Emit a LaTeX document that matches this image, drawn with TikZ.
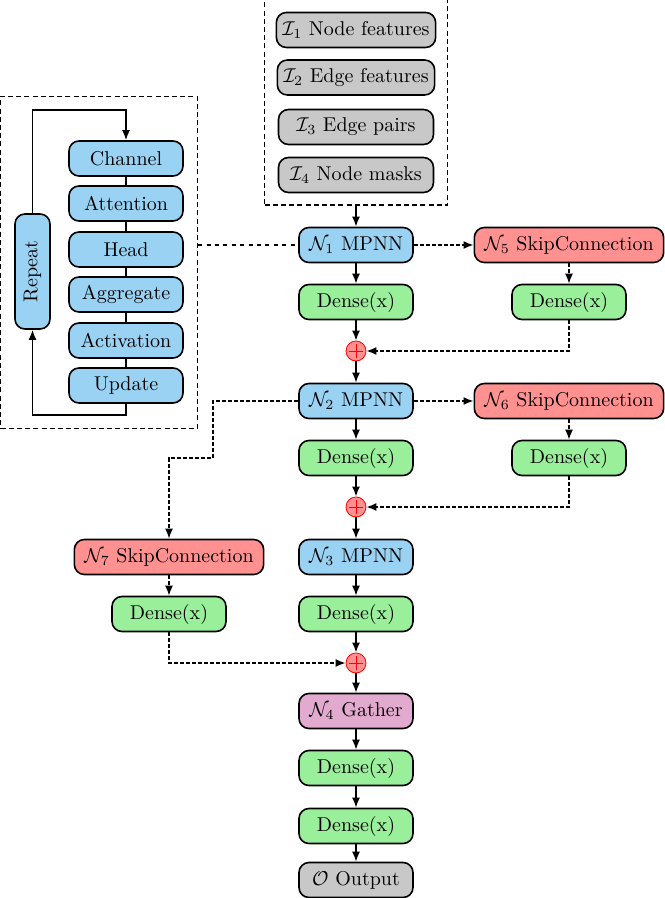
\documentclass[tikz,border=0pt]{standalone}
\usepackage{amsmath,amssymb}
\usepackage{xcolor}
\usetikzlibrary{arrows.meta,positioning,fit}
\definecolor{mpnnblue}{RGB}{154,210,243}
\definecolor{densegreen}{RGB}{154,240,154}
\definecolor{skipred}{RGB}{255,145,145}
\definecolor{gatherpink}{RGB}{226,170,206}
\definecolor{iogray}{RGB}{200,200,200}
\tikzset{
  block/.style={draw,thick,rounded corners=5pt,minimum height=17.5pt,
    minimum width=57pt,inner xsep=5pt},
  mpnn/.style={block,fill=mpnnblue},
  dense/.style={block,fill=densegreen},
  skipblock/.style={block,fill=skipred},
  gather/.style={block,fill=gatherpink},
  inp/.style={block,fill=iogray,minimum width=77.5pt,inner xsep=3pt},
  outp/.style={block,fill=iogray},
  addop/.style={circle,draw=red,fill=skipred,minimum size=10pt,inner sep=0pt,
    path picture={
      \draw[red] ([xshift=-3.6pt]path picture bounding box.center)
        -- ([xshift=3.6pt]path picture bounding box.center);
      \draw[red] ([yshift=-3.6pt]path picture bounding box.center)
        -- ([yshift=3.6pt]path picture bounding box.center);}},
  groupbox/.style={draw,thick,dash pattern=on 2.5pt off 1.6pt},
  flow/.style={thick,-{Latex[length=5pt,width=4pt]}},
  skipflow/.style={thick,dash pattern=on 2pt off 1pt,-{Latex[length=5pt,width=4pt]}},
}

\begin{document}
\begin{tikzpicture}[x=0.5pt,y=-0.5pt]
\useasboundingbox (0,0) rectangle (664,898);

% inputs
\node[inp] (i1) at (356,30) {$\mathcal{I}_1$ Node features};
\node[inp] (i2) at (356,77.5) {$\mathcal{I}_2$ Edge features};
\node[inp] (i3) at (356,127) {$\mathcal{I}_3$ Edge pairs};
\node[inp] (i4) at (356,175) {$\mathcal{I}_4$ Node masks};
\node[groupbox,fit=(i1)(i4),inner xsep=5.5pt,inner ysep=6pt] (inputs) {};

% message passing detail
\node[mpnn] (channel) at (126,158.5) {Channel};
\node[mpnn] (attention) at (126,203.5) {Attention};
\node[mpnn] (head) at (126,249.5) {Head};
\node[mpnn] (aggregate) at (126,294.5) {Aggregate};
\node[mpnn] (activation) at (126,340.5) {Activation};
\node[mpnn] (update) at (126,385.5) {Update};
\node[mpnn,minimum width=17.5pt,minimum height=57.5pt,inner xsep=0pt]
  (repeat) at (32.5,271.5) {\rotatebox{90}{Repeat}};
\coordinate (loopT) at (126,110);
\coordinate (loopB) at (126,415);
\foreach \a/\b in {channel/attention,attention/head,head/aggregate,
  aggregate/activation,activation/update}
  \draw[thick] (\a.south) -- (\b.north);
\draw[flow] (repeat.north) |- (loopT) -- (channel.north);
\draw[flow] (update.south) -- (loopB) -| (repeat.south);
\node[groupbox,fit=(loopT)(loopB)(repeat)(channel),inner sep=6.8pt] (mpnnbox) {};

% main column
\node[mpnn] (n1) at (356,245) {$\mathcal{N}_1$ MPNN};
\node[dense] (d1) at (356,302) {Dense(x)};
\node[addop] (p1) at (356,351) {};
\node[mpnn] (n2) at (356,401) {$\mathcal{N}_2$ MPNN};
\node[dense] (d2) at (356,458) {Dense(x)};
\node[addop] (p2) at (356,507) {};
\node[mpnn] (n3) at (356,557) {$\mathcal{N}_3$ MPNN};
\node[dense] (d3) at (356,614) {Dense(x)};
\node[addop] (p3) at (356,663) {};
\node[gather] (n4) at (356,711) {$\mathcal{N}_4$ Gather};
\node[dense] (d8) at (356,768) {Dense(x)};
\node[dense] (d9) at (356,826) {Dense(x)};
\node[outp] (out) at (356,880) {$\mathcal{O}$ Output};

% skip connections
\node[skipblock] (n5) at (569,245) {$\mathcal{N}_5$ SkipConnection};
\node[dense] (d5) at (569,302) {Dense(x)};
\node[skipblock] (n6) at (569,401) {$\mathcal{N}_6$ SkipConnection};
\node[dense] (d6) at (569,458) {Dense(x)};
\node[skipblock] (n7) at (169,557) {$\mathcal{N}_7$ SkipConnection};
\node[dense] (d7) at (169,614) {Dense(x)};
\coordinate (bend) at (213,458);

\draw[flow] (inputs.south) -- (n1.north);
\foreach \a/\b in {n1/d1,d1/p1,p1/n2,n2/d2,d2/p2,p2/n3,n3/d3,d3/p3,
  p3/n4,n4/d8,d8/d9,d9/out}
  \draw[flow] (\a.south) -- (\b.north);

\draw[semithick,dash pattern=on 2pt off 2.2pt] (mpnnbox.east |- n1.west) -- (n1.west);

\draw[skipflow] (n1.east) -- (n5.west);
\draw[skipflow] (n5.south) -- (d5.north);
\draw[skipflow] (d5.south) |- (p1.east);
\draw[skipflow] (n2.east) -- (n6.west);
\draw[skipflow] (n6.south) -- (d6.north);
\draw[skipflow] (d6.south) |- (p2.east);
\draw[skipflow] (n2.west) -| (bend) -| (n7.north);
\draw[skipflow] (n7.south) -- (d7.north);
\draw[skipflow] (d7.south) |- (p3.west);
\end{tikzpicture}
\end{document}
